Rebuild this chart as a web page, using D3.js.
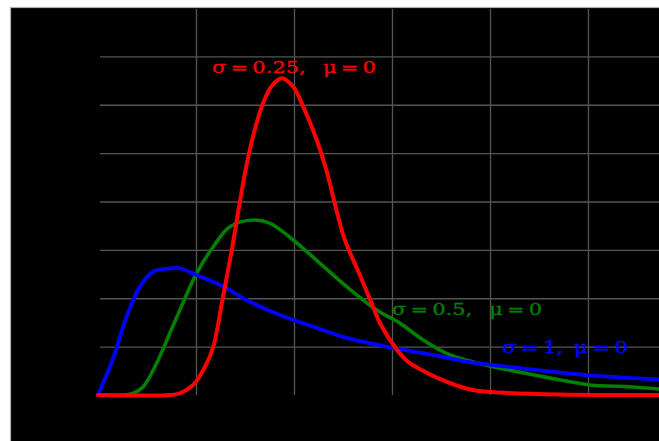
<!DOCTYPE html>
<html>
<head>
<meta charset="utf-8">
<script src="https://cdn.jsdelivr.net/npm/d3@7"></script>
<style>
  html, body { margin: 0; padding: 0; background: #ffffff; }
  svg { display: block; }
</style>
</head>
<body>
<svg id="chart" width="659" height="441"></svg>
<script>
// ---- Data ----
const xTicks = [0.5, 1.0, 1.5, 2.0, 2.5];
const yTicks = [0.25, 0.5, 0.75, 1.0, 1.25, 1.5, 1.75];

const redX = [0, 0.370, 0.418, 0.486, 0.546, 0.588, 0.636, 0.682, 0.724, 0.759, 0.801, 0.843, 0.886, 0.937, 0.996, 1.047, 1.116, 1.167, 1.218, 1.260, 1.337, 1.396, 1.439, 1.515, 1.577, 1.679, 1.796, 1.913, 2.051, 2.357, 2.862];
const redY = [0, 0, 0.009, 0.052, 0.146, 0.248, 0.498, 0.746, 0.999, 1.195, 1.375, 1.510, 1.597, 1.637, 1.593, 1.490, 1.318, 1.155, 0.950, 0.800, 0.618, 0.474, 0.371, 0.248, 0.176, 0.114, 0.062, 0.026, 0.013, 0.003, 0];

const greenX = [0, 0.138, 0.180, 0.231, 0.299, 0.384, 0.503, 0.588, 0.673, 0.792, 0.878, 0.996, 1.133, 1.269, 1.422, 1.541, 1.660, 1.796, 2.0, 2.270, 2.510, 2.714, 2.862];
const greenY = [0, 0, 0.009, 0.043, 0.164, 0.360, 0.629, 0.766, 0.870, 0.904, 0.887, 0.801, 0.680, 0.560, 0.439, 0.371, 0.284, 0.207, 0.150, 0.095, 0.052, 0.043, 0.031];

const blueX = [0, 0.078, 0.146, 0.214, 0.282, 0.384, 0.418, 0.503, 0.640, 0.759, 0.929, 1.099, 1.269, 1.439, 1.524, 1.711, 1.881, 2.051, 2.493, 2.862];
const blueY = [0, 0.190, 0.405, 0.560, 0.637, 0.655, 0.655, 0.620, 0.560, 0.491, 0.413, 0.353, 0.295, 0.257, 0.240, 0.207, 0.172, 0.151, 0.103, 0.081];

const seriesNames = [
  "σ\u2009=\u20090.25,\u2002 μ\u2009=\u20090",
  "σ\u2009=\u20090.5,\u2002 μ\u2009=\u20090",
  "σ\u2009=\u20091,\u2002μ\u2009=\u20090"
];
const seriesColors = ["#ff0000", "#008000", "#0000ff"];

// ---- Drawing ----
const svg = d3.select("#chart");
const W = 659, H = 441;

const x = d3.scaleLinear().domain([0, 3]).range([98, 686]);
const y = d3.scaleLinear().domain([0, 2]).range([395, 8]);

svg.append("defs").append("clipPath").attr("id", "clip")
  .append("rect").attr("x", 10).attr("y", 7).attr("width", W - 10).attr("height", H - 7);

// background frame
svg.append("rect")
  .attr("x", 10.5).attr("y", 7.5).attr("width", W).attr("height", H)
  .attr("fill", "#000").attr("stroke", "#b0b0b0").attr("stroke-width", 1.2);

const g = svg.append("g").attr("clip-path", "url(#clip)");

// grid via axes
const xGrid = d3.axisBottom(x).tickValues(xTicks).tickSize(-(y(0) - y(2)) + 1).tickFormat("");
const gx = g.append("g").attr("transform", `translate(0,${y(0)})`).call(xGrid);
const yGrid = d3.axisLeft(y).tickValues(yTicks).tickSize(-(x(3) - x(0))).tickFormat("");
const gy = g.append("g").attr("transform", `translate(${x(0) + 2},0)`).call(yGrid);
[gx, gy].forEach(a => {
  a.select(".domain").remove();
  a.selectAll("line").attr("stroke", "#555").attr("stroke-width", 1.3);
});

// curves
const line = d3.line()
  .x(d => x(d[0]))
  .y(d => y(d[1]))
  .curve(d3.curveCatmullRom.alpha(0.5));

const series = [
  { xs: greenX, ys: greenY, c: seriesColors[1], w: 3.6 },
  { xs: blueX, ys: blueY, c: seriesColors[2], w: 3.8 },
  { xs: redX, ys: redY, c: seriesColors[0], w: 4 }
];
series.forEach(s => {
  g.append("path")
    .datum(s.xs.map((v, i) => [v, s.ys[i]]))
    .attr("d", line)
    .attr("fill", "none")
    .attr("stroke", s.c)
    .attr("stroke-width", s.w)
    .attr("stroke-linejoin", "round")
    .attr("stroke-linecap", "round");
});

// labels
const labels = [
  { t: seriesNames[0], c: seriesColors[0], x: 212, y: 73, len: 164 },
  { t: seriesNames[1], c: seriesColors[1], x: 392, y: 315, len: 150 },
  { t: seriesNames[2], c: seriesColors[2], x: 502, y: 353, len: 126 }
];
labels.forEach(l => {
  g.append("text")
    .attr("x", l.x).attr("y", l.y)
    .attr("fill", l.c)
    .attr("stroke", l.c)
    .attr("stroke-width", 0.3)
    .attr("font-family", "'DejaVu Serif', 'Liberation Serif', serif")
    .attr("font-size", 17)
    .attr("textLength", l.len)
    .attr("lengthAdjust", "spacingAndGlyphs")
    .text(l.t);
});
</script>
</body>
</html>
